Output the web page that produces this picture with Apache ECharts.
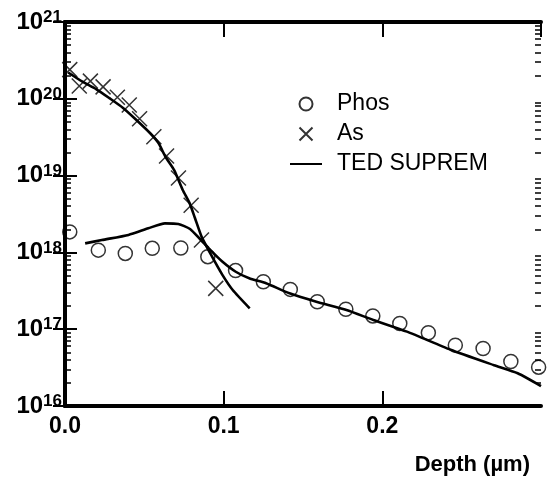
<!DOCTYPE html>
<html><head><meta charset="utf-8">
<script src="https://cdn.jsdelivr.net/npm/echarts@6/dist/echarts.min.js"></script>
<style>html,body{margin:0;padding:0;background:#fff}#c{width:549px;height:479px}</style>
</head><body><div id="c"></div>
<script>
// Measured data (depth in µm, concentration in cm^-3)
const phosDepth = [0.003, 0.021, 0.038, 0.055, 0.073, 0.090, 0.1075, 0.125, 0.142, 0.159, 0.177, 0.194, 0.211, 0.229, 0.246, 0.2635, 0.281, 0.2985];
const phosConc  = [1.85e18, 1.07e18, 9.7e17, 1.13e18, 1.14e18, 8.8e17, 5.8e17, 4.15e17, 3.3e17, 2.28e17, 1.82e17, 1.49e17, 1.19e17, 9.0e16, 6.2e16, 5.6e16, 3.8e16, 3.2e16];
const asDepth = [0.003, 0.009, 0.016, 0.024, 0.033, 0.0405, 0.047, 0.056, 0.064, 0.0715, 0.0795, 0.086, 0.095];
const asConc  = [2.4e20, 1.47e20, 1.7e20, 1.43e20, 1.05e20, 8.3e19, 5.5e19, 3.2e19, 1.8e19, 9.3e18, 4.1e18, 1.45e18, 3.4e17];
// TED SUPREM simulations
const tedAsDepth = [0.002, 0.011, 0.0196, 0.028, 0.0366, 0.045, 0.0537, 0.059, 0.0633, 0.0688, 0.0742, 0.0786, 0.0819, 0.0862, 0.0927, 0.0992, 0.1057, 0.1164];
const tedAsConc  = [2.2e20, 1.67e20, 1.34e20, 1.02e20, 7.6e19, 5.3e19, 3.56e19, 2.64e19, 1.76e19, 1.18e19, 6.5e18, 4.35e18, 2.8e18, 1.58e18, 8.8e17, 5.1e17, 3.24e17, 1.87e17];
const tedPhosDepth = [0.0127, 0.0232, 0.040, 0.0525, 0.063, 0.0714, 0.0788, 0.0852, 0.0917, 0.0991, 0.1076, 0.1161, 0.1267, 0.1415, 0.1584, 0.1774, 0.1943, 0.2155, 0.243, 0.2704, 0.2853, 0.300];
const tedPhosConc  = [1.31e18, 1.45e18, 1.69e18, 2.06e18, 2.39e18, 2.35e18, 2.02e18, 1.48e18, 1.07e18, 7.6e17, 5.6e17, 4.6e17, 3.96e17, 2.93e17, 2.28e17, 1.78e17, 1.32e17, 9.3e16, 5.4e16, 3.4e16, 2.67e16, 1.82e16];
// Axis ticks
const xTickLabels = ['0.0', '0.1', '0.2'];
const yDecades = [16, 17, 18, 19, 20, 21];
const seriesNames = ['Phos', 'As', 'TED SUPREM'];
const xLabelText = 'Depth (µm)';

const pairs = (xs, ys) => xs.map((x, i) => [x, ys[i]]);
const minorVals = [];
yDecades.slice(0, -1).forEach(d => { for (let k = 2; k <= 9; k++) minorVals.push(k * Math.pow(10, d)); });
// tiny inward nudge keeps the end decades inside the log extent after float rounding
const majorVals = yDecades.map((d, i) => Math.pow(10, d) * (i === yDecades.length - 1 ? (1 - 1e-9) : (i === 0 ? (1 + 1e-9) : 1)));

const FONT = 'Liberation Sans, Arial, Helvetica, sans-serif';
const black = '#000';

function xAxisDef(pos, showLabel) {
  return {
    type: 'value', position: pos, min: 0, max: 0.3, interval: 0.1,
    axisLine: { show: true, lineStyle: { color: black, width: 4 } },
    axisTick: { show: true, inside: true, length: 15, lineStyle: { color: black, width: 2 } },
    axisLabel: {
      show: showLabel, margin: 9, color: black, fontFamily: FONT, fontSize: 23, fontWeight: 'bold',
      showMaxLabel: false,
      formatter: v => { const i = Math.round(v * 10); return xTickLabels[i] !== undefined ? xTickLabels[i] : ''; }
    },
    splitLine: { show: false }
  };
}
function yMajor(pos, showLabel) {
  return {
    type: 'log', logBase: 10, position: pos, min: 1e16, max: 1e21,
    axisLine: { show: true, lineStyle: { color: black, width: 4 } },
    axisTick: { show: true, inside: true, length: 12, lineStyle: { color: black, width: 2 }, customValues: majorVals },
    axisLabel: {
      show: showLabel, margin: 3, color: black, fontFamily: FONT,
      customValues: majorVals, showMaxLabel: true, showMinLabel: true, hideOverlap: false,
      formatter: v => '{b|10}{s|' + Math.round(Math.log10(v)) + '}',
      rich: {
        b: { fontSize: 24, fontWeight: 'bold', fontFamily: FONT, color: black, lineHeight: 26 },
        s: { fontSize: 17, fontWeight: 'bold', fontFamily: FONT, color: black, verticalAlign: 'top', lineHeight: 17 }
      }
    },
    splitLine: { show: false }
  };
}
function yMinor(pos) {
  return {
    type: 'log', logBase: 10, position: pos, min: 1e16, max: 1e21,
    axisLine: { show: false },
    axisTick: { show: true, inside: true, length: 6, lineStyle: { color: black, width: 1.5 }, customValues: minorVals },
    axisLabel: { show: false },
    splitLine: { show: false }
  };
}

const chart = echarts.init(document.getElementById('c'), null, { renderer: 'canvas' });
chart.setOption({
  backgroundColor: '#fff',
  animation: false,
  textStyle: { fontFamily: FONT },
  grid: { left: 65, right: 8, top: 22, bottom: 73, containLabel: false },
  title: {
    text: xLabelText, right: 14, top: 449,
    textStyle: { fontFamily: FONT, fontSize: 22, fontWeight: 'bold', color: black }
  },
  legend: {
    orient: 'vertical', left: 284, top: 87,
    itemWidth: 32, itemHeight: 13, itemGap: 6,
    data: seriesNames,
    textStyle: { fontFamily: FONT, fontSize: 23, color: black, lineHeight: 24, padding: [0, 0, 0, 10] }
  },
  xAxis: [xAxisDef('bottom', true), xAxisDef('top', false)],
  yAxis: [yMajor('left', true), yMajor('right', false), yMinor('left'), yMinor('right')],
  series: [
    {
      name: seriesNames[0], type: 'scatter', xAxisIndex: 0, yAxisIndex: 0,
      symbol: 'circle', symbolSize: 14,
      itemStyle: { color: 'rgba(0,0,0,0)', borderColor: black, borderWidth: 1.5 },
      data: pairs(phosDepth, phosConc), z: 3
    },
    {
      name: seriesNames[1], type: 'scatter', xAxisIndex: 0, yAxisIndex: 0,
      symbol: 'path://M0,0L10,10M0,10L10,0', symbolSize: 15,
      itemStyle: { color: 'rgba(0,0,0,0)', borderColor: black, borderWidth: 1.5 },
      data: pairs(asDepth, asConc), z: 3
    },
    {
      name: seriesNames[2], type: 'line', xAxisIndex: 0, yAxisIndex: 0,
      symbol: 'none', smooth: 0.2,
      itemStyle: { color: 'rgba(0,0,0,0)', borderWidth: 0 },
      lineStyle: { color: black, width: 2.6 },
      data: pairs(tedAsDepth, tedAsConc)
    },
    {
      name: seriesNames[2], type: 'line', xAxisIndex: 0, yAxisIndex: 0,
      symbol: 'none', smooth: 0.2,
      itemStyle: { color: 'rgba(0,0,0,0)', borderWidth: 0 },
      lineStyle: { color: black, width: 2.6 },
      data: pairs(tedPhosDepth, tedPhosConc)
    }
  ]
});
</script>
</body></html>
